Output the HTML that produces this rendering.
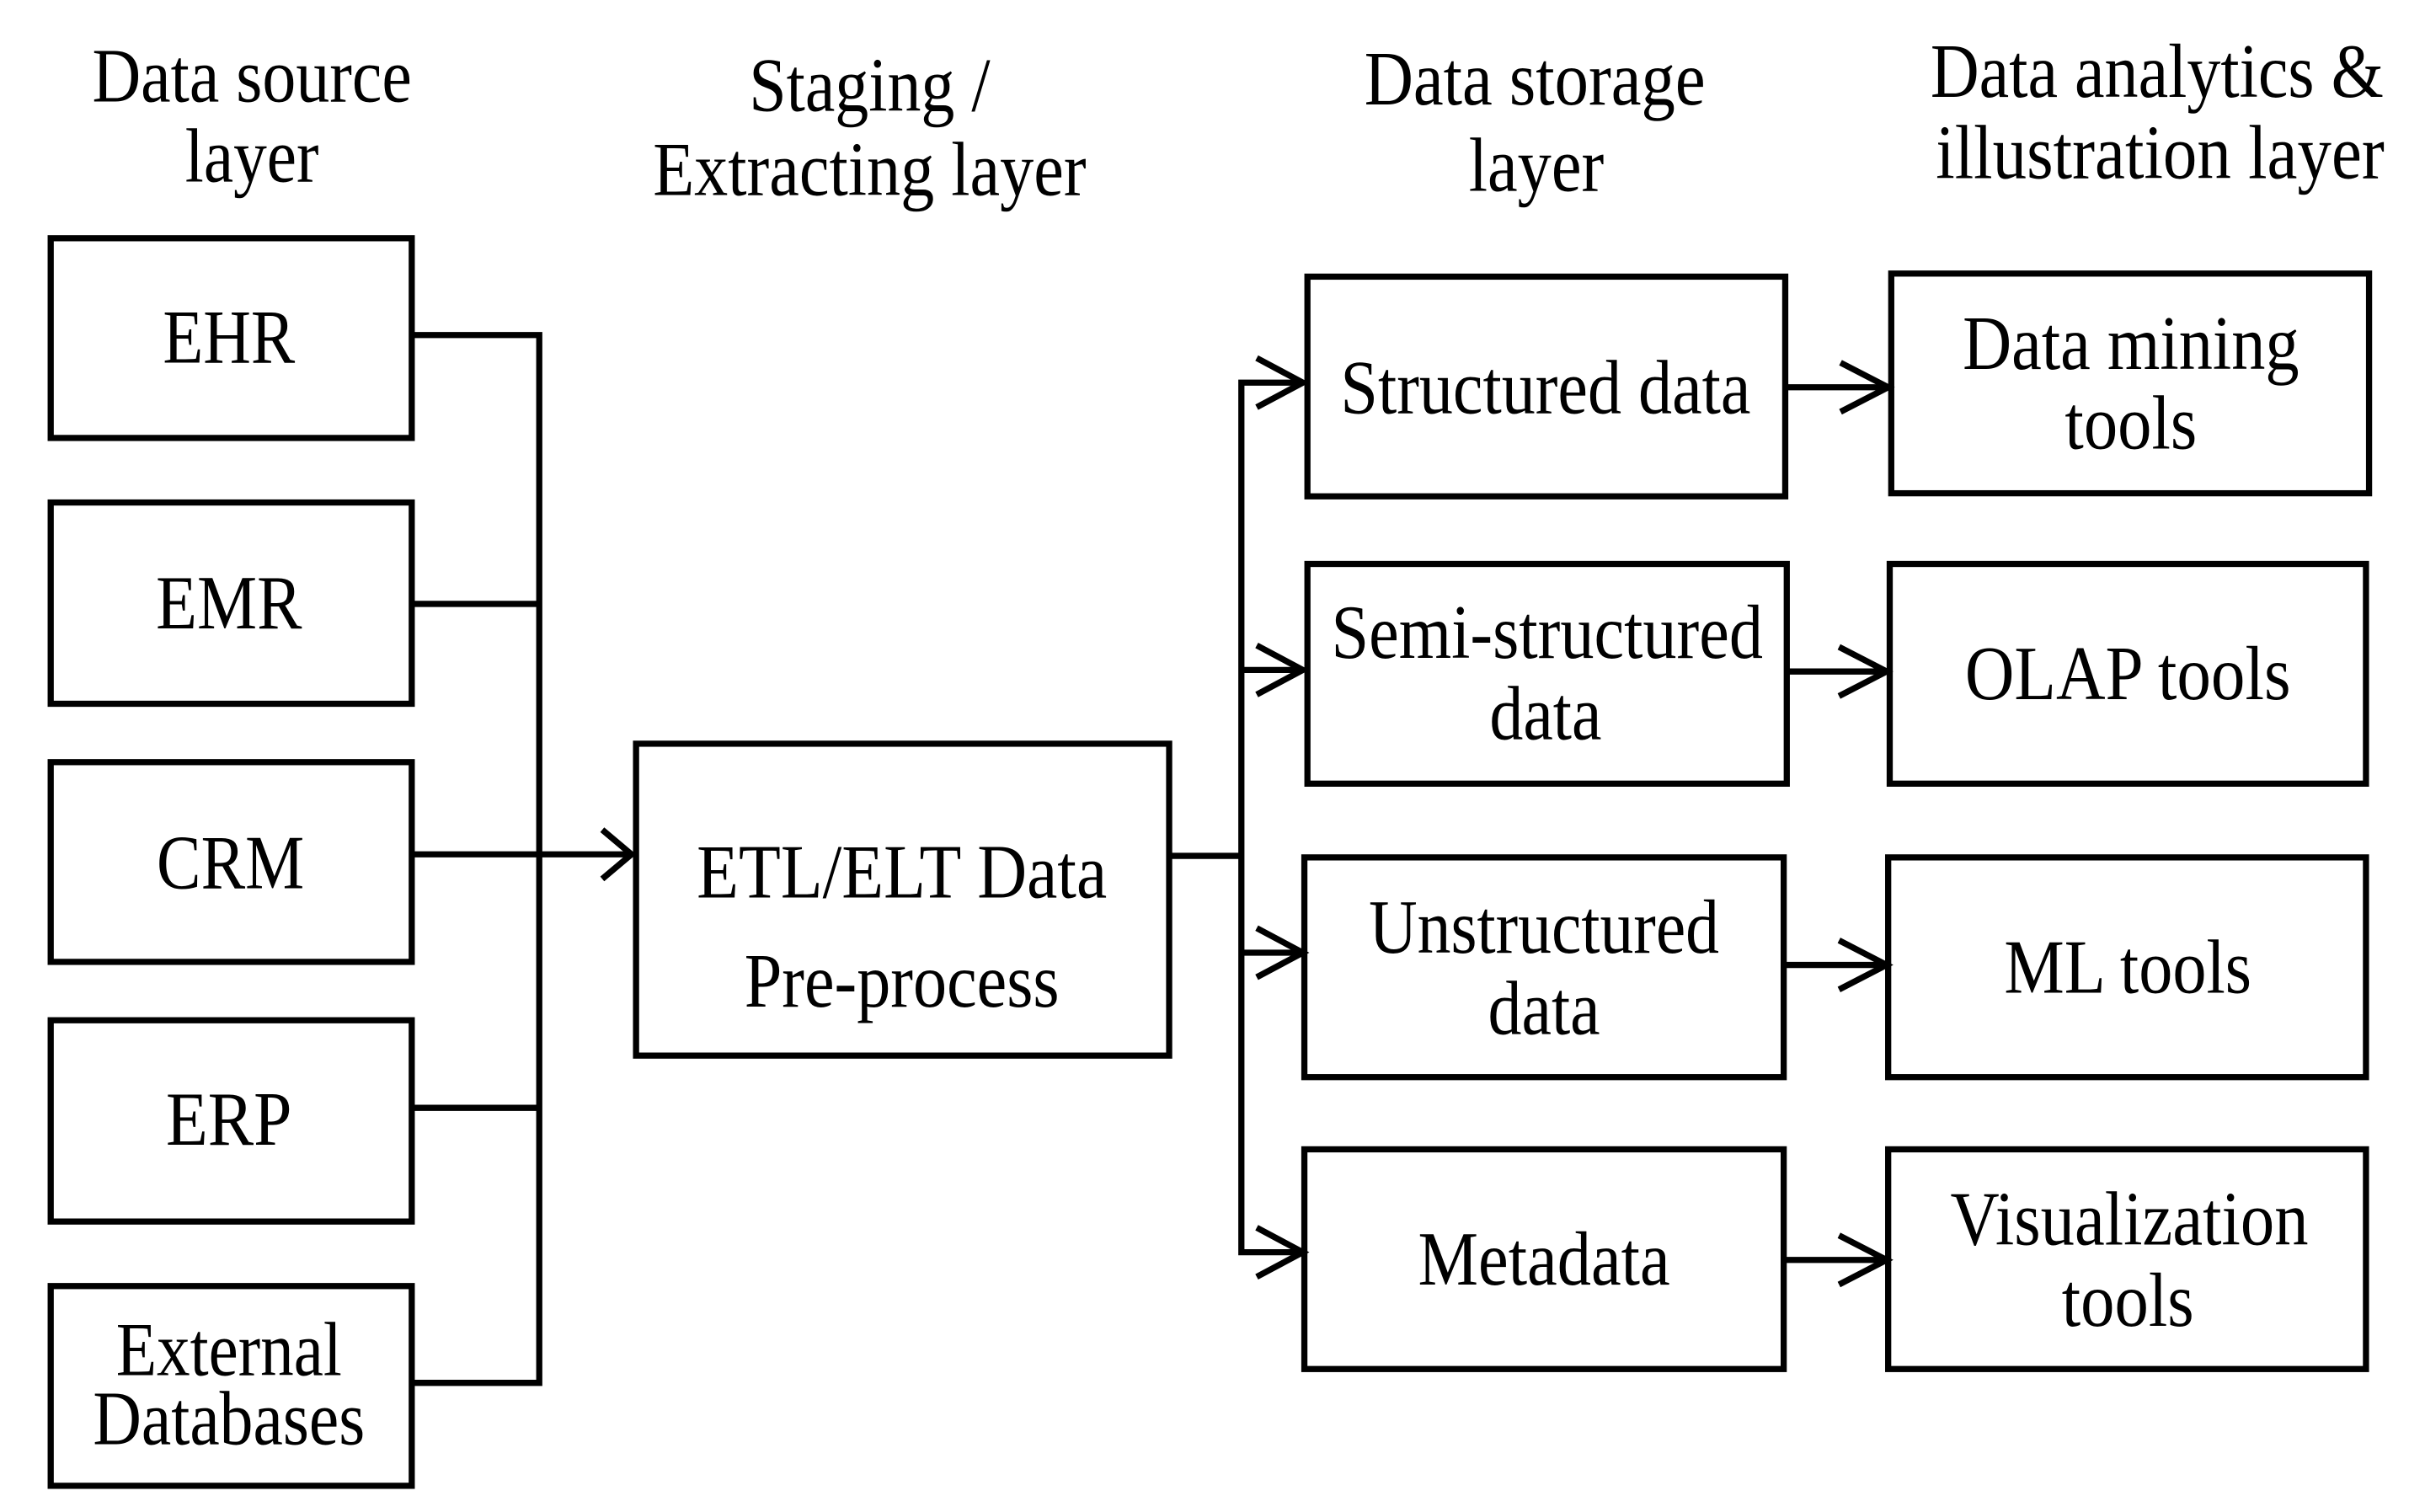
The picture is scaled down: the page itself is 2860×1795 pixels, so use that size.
<!DOCTYPE html>
<html><head><meta charset="utf-8"><style>
html,body{margin:0;padding:0;background:#fff;}
svg{display:block;}
text{font-family:"Liberation Serif",serif;font-size:50px;fill:#000;text-anchor:middle;}
</style></head><body>
<svg width="2860" height="1795" viewBox="0 0 1568 984" xmlns="http://www.w3.org/2000/svg">
<g fill="none" stroke="#000" stroke-width="4">
<rect x="33" y="155" width="235" height="130"/>
<rect x="33" y="327" width="235" height="131"/>
<rect x="33" y="496" width="235" height="130"/>
<rect x="33" y="664" width="235" height="131"/>
<rect x="33" y="837" width="235" height="130"/>
<rect x="414" y="484" width="347" height="203"/>
<rect x="851" y="180" width="311" height="143"/>
<rect x="851" y="367" width="312" height="143"/>
<rect x="849" y="558" width="312" height="143"/>
<rect x="849" y="748" width="312" height="143"/>
<rect x="1231" y="178" width="311" height="143"/>
<rect x="1230" y="367" width="310" height="143"/>
<rect x="1229" y="558" width="311" height="143"/>
<rect x="1229" y="748" width="311" height="143"/>
<path d="M268 218H351M268 393H351M268 556H410M268 721H351M268 900H351M351 216V902"/>
<path d="M761 557H808M808 247V817M808 249H848M808 436H848M808 620H848M808 815H848"/>
<path d="M1162 252H1228M1163 437H1227M1161 628H1227M1161 820H1227"/>
<g stroke-width="4">
<path d="M392 540L411 556L392 572"/>
<path d="M818 233L848 249L818 265"/>
<path d="M818 420L848 436L818 452"/>
<path d="M818 604L848 620L818 636"/>
<path d="M818 799L848 815L818 831"/>
<path d="M1198 236L1229 252L1198 268"/>
<path d="M1197 421L1228 437L1197 453"/>
<path d="M1197 612L1228 628L1197 644"/>
<path d="M1197 804L1228 820L1197 836"/>
</g>
</g>
<text x="164" y="66" textLength="208" lengthAdjust="spacingAndGlyphs">Data source</text>
<text x="164" y="118" textLength="87" lengthAdjust="spacingAndGlyphs">layer</text>
<text x="566" y="72" textLength="157" lengthAdjust="spacingAndGlyphs">Staging /</text>
<text x="566" y="127" textLength="282" lengthAdjust="spacingAndGlyphs">Extracting layer</text>
<text x="999" y="68" textLength="222" lengthAdjust="spacingAndGlyphs">Data storage</text>
<text x="1000" y="124" textLength="88" lengthAdjust="spacingAndGlyphs">layer</text>
<text x="1404" y="63" textLength="295" lengthAdjust="spacingAndGlyphs">Data analytics &amp;</text>
<text x="1406" y="116" textLength="292" lengthAdjust="spacingAndGlyphs">illustration layer</text>
<text x="149" y="236" textLength="86" lengthAdjust="spacingAndGlyphs">EHR</text>
<text x="149" y="409" textLength="95" lengthAdjust="spacingAndGlyphs">EMR</text>
<text x="150" y="578" textLength="96" lengthAdjust="spacingAndGlyphs">CRM</text>
<text x="149" y="745" textLength="82" lengthAdjust="spacingAndGlyphs">ERP</text>
<text x="149" y="895" textLength="147" lengthAdjust="spacingAndGlyphs">External</text>
<text x="149" y="940" textLength="177" lengthAdjust="spacingAndGlyphs">Databases</text>
<text x="587" y="584" textLength="267" lengthAdjust="spacingAndGlyphs">ETL/ELT Data</text>
<text x="587" y="655" textLength="205" lengthAdjust="spacingAndGlyphs">Pre-process</text>
<text x="1006" y="269" textLength="267" lengthAdjust="spacingAndGlyphs">Structured data</text>
<text x="1007" y="428" textLength="281" lengthAdjust="spacingAndGlyphs">Semi-structured</text>
<text x="1006" y="481" textLength="73" lengthAdjust="spacingAndGlyphs">data</text>
<text x="1005" y="620" textLength="228" lengthAdjust="spacingAndGlyphs">Unstructured</text>
<text x="1005" y="673" textLength="73" lengthAdjust="spacingAndGlyphs">data</text>
<text x="1005" y="836" textLength="164" lengthAdjust="spacingAndGlyphs">Metadata</text>
<text x="1387" y="240" textLength="219" lengthAdjust="spacingAndGlyphs">Data mining</text>
<text x="1387" y="292" textLength="86" lengthAdjust="spacingAndGlyphs">tools</text>
<text x="1385" y="455" textLength="212" lengthAdjust="spacingAndGlyphs">OLAP tools</text>
<text x="1385" y="646" textLength="161" lengthAdjust="spacingAndGlyphs">ML tools</text>
<text x="1386" y="810" textLength="233" lengthAdjust="spacingAndGlyphs">Visualization</text>
<text x="1385" y="863" textLength="86" lengthAdjust="spacingAndGlyphs">tools</text>
</svg>
</body></html>
